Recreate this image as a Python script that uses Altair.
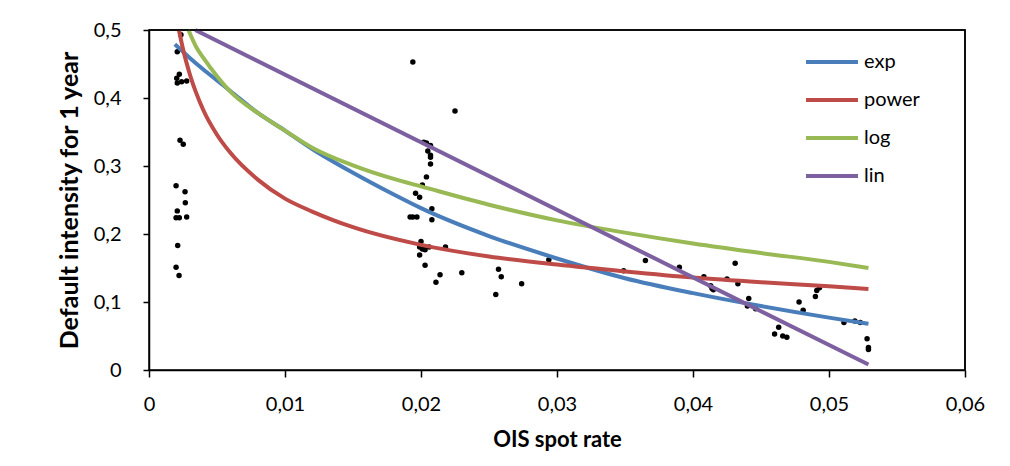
import altair as alt
import pandas as pd

# ---- scatter observations ----
obs_x = [0.00235, 0.00208, 0.00223, 0.00204, 0.00208, 0.00240, 0.00277,
         0.00228, 0.00252, 0.00199, 0.00265, 0.00267, 0.00208, 0.00199,
         0.00223, 0.00277, 0.00211, 0.00199, 0.00221,
         0.0194, 0.0225, 0.0202, 0.0204, 0.0207, 0.0205, 0.0207, 0.0207,
         0.0207, 0.0204, 0.0201, 0.0196, 0.0199, 0.0192, 0.0194, 0.0197,
         0.0208, 0.0208, 0.0200, 0.0199, 0.0201, 0.0203, 0.0206, 0.0218,
         0.0199, 0.0203, 0.0214, 0.0211, 0.0230, 0.0257, 0.0259, 0.0255,
         0.0274, 0.0294, 0.0349, 0.0365, 0.0390, 0.0408, 0.0413, 0.0414,
         0.0415, 0.0425, 0.0431, 0.0433, 0.0441, 0.0440, 0.0446, 0.0460,
         0.0463, 0.0466, 0.0469, 0.0478, 0.0481, 0.0490, 0.0491, 0.0493,
         0.0511, 0.0519, 0.0523, 0.0528, 0.0529, 0.0529]
obs_y = [0.493, 0.468, 0.435, 0.429, 0.422, 0.424, 0.425,
         0.338, 0.332, 0.271, 0.262, 0.246, 0.234, 0.224,
         0.224, 0.225, 0.183, 0.151, 0.139,
         0.453, 0.381, 0.335, 0.334, 0.330, 0.322, 0.316, 0.313,
         0.303, 0.284, 0.272, 0.260, 0.254, 0.225, 0.225, 0.225,
         0.237, 0.221, 0.189, 0.181, 0.178, 0.177, 0.181, 0.181,
         0.169, 0.154, 0.140, 0.129, 0.143, 0.148, 0.137, 0.111,
         0.127, 0.162, 0.146, 0.161, 0.151, 0.137, 0.124, 0.120,
         0.118, 0.134, 0.157, 0.127, 0.105, 0.094, 0.090, 0.053,
         0.063, 0.050, 0.048, 0.100, 0.088, 0.108, 0.117, 0.121,
         0.070, 0.072, 0.070, 0.046, 0.033, 0.030]

# ---- fitted curves ----
exp_x = [0.0019, 0.0025, 0.003, 0.004, 0.005, 0.006, 0.008, 0.010, 0.012,
         0.015, 0.018, 0.020, 0.025, 0.030, 0.035, 0.040, 0.045, 0.050, 0.0529]
exp_y = [0.479, 0.468, 0.459, 0.442, 0.426, 0.410, 0.378, 0.352, 0.325,
         0.290, 0.258, 0.238, 0.197, 0.164, 0.135, 0.113, 0.094, 0.077, 0.068]

pow_x = [0.0022, 0.0025, 0.003, 0.004, 0.005, 0.006, 0.008, 0.010, 0.012,
         0.015, 0.020, 0.025, 0.030, 0.035, 0.040, 0.045, 0.050, 0.0529]
pow_y = [0.500, 0.472, 0.435, 0.382, 0.346, 0.319, 0.280, 0.252, 0.233,
         0.210, 0.184, 0.167, 0.155, 0.145, 0.136, 0.129, 0.123, 0.119]

log_x = [0.0029, 0.0035, 0.004, 0.005, 0.006, 0.008, 0.010, 0.012, 0.015,
         0.018, 0.020, 0.025, 0.030, 0.035, 0.040, 0.045, 0.050, 0.0529]
log_y = [0.500, 0.474, 0.459, 0.432, 0.409, 0.378, 0.352, 0.327, 0.301,
         0.281, 0.270, 0.243, 0.220, 0.202, 0.186, 0.172, 0.159, 0.150]

lin_x = [0.0034, 0.0529]
lin_y = [0.500, 0.008]

series_names = ["exp", "power", "log", "lin"]
series_colors = ["#4A7EBB", "#BE4B48", "#98B954", "#7D60A0"]

x_ticks = [0, 0.01, 0.02, 0.03, 0.04, 0.05, 0.06]
y_ticks = [0, 0.1, 0.2, 0.3, 0.4, 0.5]

# plot-area frame: top-left corner -> top-right -> bottom-right (axis extremes)
frame_x = [0.0, 0.06, 0.06]
frame_y = [0.5, 0.5, 0.0]

FONT = "Lato"
W, H = 816, 340

rows = []
for name, xs, ys in [("exp", exp_x, exp_y), ("power", pow_x, pow_y),
                     ("log", log_x, log_y), ("lin", lin_x, lin_y)]:
    for i, (a, b) in enumerate(zip(xs, ys)):
        rows.append({"series": name, "x": a, "y": b, "order": i})
curves = pd.DataFrame(rows)
points = pd.DataFrame({"x": obs_x, "y": obs_y})
frame_df = pd.DataFrame({"x": frame_x, "y": frame_y,
                         "order": list(range(len(frame_x)))})

xscale = alt.Scale(domain=[0, 0.06], nice=False, zero=False)
yscale = alt.Scale(domain=[0, 0.5], nice=False, zero=False)

xaxis = alt.Axis(values=x_ticks, title="OIS spot rate", grid=False,
                 labelExpr="replace(format(datum.value, '.2~f'), '.', ',')",
                 labelFlush=False,
                 domainColor="black", domainWidth=1.5, tickColor="black",
                 tickSize=7, tickWidth=1.5, labelPadding=17, titlePadding=15,
                 labelFontSize=20, titleFontSize=22, labelFont=FONT,
                 titleFont=FONT, labelColor="black", titleColor="black",
                 titleFontWeight="bold")
yaxis = alt.Axis(values=y_ticks, title="Default intensity for 1 year",
                 grid=False,
                 labelExpr="replace(format(datum.value, '.1~f'), '.', ',')",
                 domainColor="black", domainWidth=1.5, tickColor="black",
                 tickSize=6, tickWidth=1.5, labelPadding=22, titlePadding=11,
                 labelFontSize=20, titleFontSize=25, labelFont=FONT,
                 titleFont=FONT, labelColor="black", titleColor="black",
                 titleFontWeight="bold")

pts = alt.Chart(points).mark_circle(size=30, color="black", opacity=1).encode(
    x=alt.X("x:Q", scale=xscale, axis=xaxis),
    y=alt.Y("y:Q", scale=yscale, axis=yaxis),
)

lines = alt.Chart(curves).mark_line(strokeWidth=4,
                                    interpolate="monotone").encode(
    x=alt.X("x:Q", scale=xscale),
    y=alt.Y("y:Q", scale=yscale),
    order="order:Q",
    color=alt.Color("series:N",
                    scale=alt.Scale(domain=series_names, range=series_colors),
                    sort=series_names,
                    legend=alt.Legend(orient="none", legendX=655, legendY=4,
                                      title=None, symbolType="stroke",
                                      symbolSize=2700, symbolStrokeWidth=4,
                                      labelFontSize=20, labelFont=FONT,
                                      labelColor="black", rowPadding=-13,
                                      labelOffset=4)),
)

frame = alt.Chart(frame_df).mark_line(strokeWidth=1.5, color="#000000",
                                      interpolate="linear").encode(
    x=alt.X("x:Q", scale=xscale),
    y=alt.Y("y:Q", scale=yscale),
    order="order:Q",
)

chart = alt.layer(pts, lines, frame).properties(
    width=W, height=H,
    autosize=alt.AutoSizeParams(type="none"),
    padding={"left": 141, "top": 22, "right": 30, "bottom": 86},
).configure_view(stroke="#000000", strokeWidth=1.5)

chart.save("out.html", embed_options={"renderer": "svg", "actions": False})
